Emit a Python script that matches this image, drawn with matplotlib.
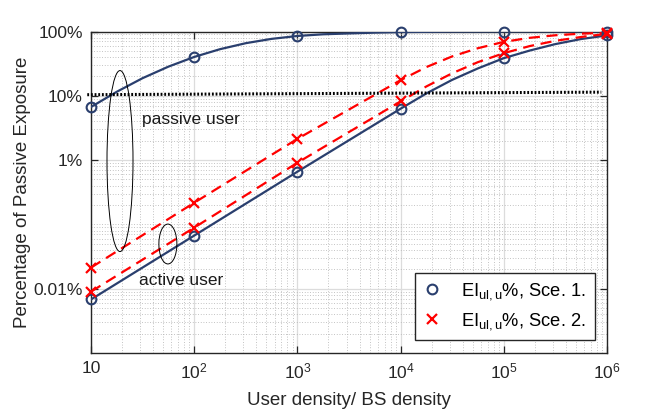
import matplotlib
matplotlib.use("Agg")
import matplotlib.pyplot as plt
from matplotlib.patches import Ellipse
from matplotlib.ticker import LogLocator, NullFormatter

plt.rcParams['font.family'] = ['Liberation Sans', 'DejaVu Sans']
plt.rcParams['mathtext.fontset'] = 'custom'
plt.rcParams['mathtext.rm'] = 'Liberation Sans'
plt.rcParams['mathtext.it'] = 'Liberation Sans:italic'
plt.rcParams['mathtext.default'] = 'regular'

# ---- data (fractions) ----
dec_x = [10, 1e2, 1e3, 1e4, 1e5, 1e6]
passive1_mk = [0.067, 0.402, 0.86, 0.99, 1.0, 1.0]
active1_mk = [6.8e-5, 6.7e-4, 0.0066, 0.063, 0.385, 0.87]
sce2_hi_mk = [2.13e-4, 0.00217, 0.0214, 0.175, 0.69, 0.955]
sce2_lo_mk = [9.0e-5, 8.9e-4, 0.0091, 0.082, 0.46, 0.92]

passive1_x = [10, 17.8, 31.6, 56.2, 100, 178, 316, 562, 1000, 1778, 3162, 5623, 1e4, 3.16e4, 1e5, 1e6]
passive1_y = [0.067, 0.1157, 0.188, 0.284, 0.402, 0.531, 0.658, 0.768, 0.852, 0.905, 0.933, 0.96, 0.98, 0.995, 1.0, 1.0]

active1_x = [10, 100, 1000, 1e4, 1.78e4, 3.16e4, 5.62e4, 1e5, 1.78e5, 3.16e5, 5.62e5, 1e6]
active1_y = [6.8e-5, 6.7e-4, 0.0066, 0.063, 0.109, 0.177, 0.267, 0.385, 0.505, 0.637, 0.764, 0.869]

sce2_hi_x = [10, 100, 1000, 1e4, 1.78e4, 3.16e4, 5.62e4, 1e5, 1.78e5, 3.16e5, 5.62e5, 1e6]
sce2_hi_y = [2.13e-4, 0.00217, 0.0214, 0.175, 0.28, 0.41, 0.55, 0.69, 0.797, 0.874, 0.926, 0.955]

sce2_lo_x = [10, 100, 1000, 1e4, 1.78e4, 3.16e4, 5.62e4, 1e5, 1.78e5, 3.16e5, 5.62e5, 1e6]
sce2_lo_y = [9.0e-5, 8.9e-4, 0.0091, 0.082, 0.140, 0.224, 0.334, 0.46, 0.593, 0.716, 0.822, 0.92]

thresh_x = [9.2, 8.8e5]
thresh_y = [0.104, 0.114]

xticks = [10, 1e2, 1e3, 1e4, 1e5, 1e6]
xticklabels = ['10', '$10^{2}$', '$10^{3}$', '$10^{4}$', '$10^{5}$', '$10^{6}$']
yticks = [1e-4, 1e-2, 1e-1, 1]
yticklabels = ['0.01%', '1%', '10%', '100%']

NAVY = '#2a3f6e'
RED = '#ff0000'
TXT = '#262626'

fig = plt.figure(figsize=(6.64, 4.12), dpi=100)
ax = fig.add_axes([91/664, 59/412, 516/664, 321.5/412])
ax.set_xscale('log')
ax.set_yscale('log')
ax.set_xlim(10, 1e6)
ax.set_ylim(1e-5, 1)

ax.set_xticks(xticks)
ax.set_xticklabels(xticklabels)
ax.set_yticks(yticks)
ax.set_yticklabels(yticklabels)
ax.xaxis.set_minor_locator(LogLocator(base=10, subs=range(1, 10), numticks=50))
ax.yaxis.set_minor_locator(LogLocator(base=10, subs=range(1, 10), numticks=50))
ax.xaxis.set_minor_formatter(NullFormatter())
ax.yaxis.set_minor_formatter(NullFormatter())
ax.grid(True, which='major', color='#dcdcdc', lw=0.9, ls='-')
ax.grid(True, which='minor', color='#b0b0b0', lw=0.6, ls=(0, (1, 2.2)))
ax.set_axisbelow(True)

ax.tick_params(which='major', direction='in', length=5, width=0.9, top=True, right=True,
               labelsize=12.5, colors=TXT, pad=6)
ax.tick_params(which='minor', length=0)
for s in ax.spines.values():
    s.set_color(TXT)
    s.set_linewidth(1.0)

# lines
ax.plot(passive1_x, passive1_y, color=NAVY, lw=1.6, zorder=3)
ax.plot(active1_x, active1_y, color=NAVY, lw=1.6, zorder=3)
ax.plot(sce2_hi_x, sce2_hi_y, color=RED, lw=1.6, ls=(0, (5, 3)), zorder=3)
ax.plot(sce2_lo_x, sce2_lo_y, color=RED, lw=1.6, ls=(0, (5, 3)), zorder=3)

# markers
ax.plot(dec_x, passive1_mk, ls='none', marker='o', ms=7, mfc='none', mec=NAVY, mew=1.5,
        clip_on=False, zorder=4)
ax.plot(dec_x, active1_mk, ls='none', marker='o', ms=7, mfc='none', mec=NAVY, mew=1.5,
        clip_on=False, zorder=4, label=r'EI$_{\mathrm{ul,u}}$%, Sce. 1.')
ax.plot(dec_x, sce2_hi_mk, ls='none', marker='x', ms=7, mec=RED, mew=1.6,
        clip_on=False, zorder=4)
ax.plot(dec_x, sce2_lo_mk, ls='none', marker='x', ms=7, mec=RED, mew=1.6,
        clip_on=False, zorder=4, label=r'EI$_{\mathrm{ul,u}}$%, Sce. 2.')

# threshold dotted line
ax.plot(thresh_x, thresh_y, color='black', lw=2.2, ls=(0, (0.6, 0.6)), clip_on=False, zorder=3)

# ellipses and annotations
ax.add_patch(Ellipse((0.0562, 0.597), 0.0504, 0.563, transform=ax.transAxes,
                     fill=False, ec='black', lw=0.7, zorder=5))
ax.add_patch(Ellipse((0.149, 0.339), 0.0349, 0.124, transform=ax.transAxes,
                     fill=False, ec='black', lw=0.7, zorder=5))
ax.text(0.0988, 0.725, 'passive user', transform=ax.transAxes, fontsize=12.5,
        va='center', ha='left', color='#1a1a1a')
ax.text(0.093, 0.227, 'active user', transform=ax.transAxes, fontsize=12.5,
        va='center', ha='left', color='#1a1a1a')

leg = ax.legend(loc='lower right', bbox_to_anchor=(0.976, 0.040), fontsize=13.2,
                frameon=True, fancybox=False, edgecolor=TXT, framealpha=1,
                handlelength=1.0, handletextpad=1.1, borderpad=0.45, labelspacing=0.5,
                borderaxespad=0)
leg.get_frame().set_linewidth(1.0)

ax.set_xlabel('User density/ BS density', fontsize=13.5, color=TXT, labelpad=8)
ax.set_ylabel('Percentage of Passive Exposure', fontsize=13.5, color=TXT, labelpad=2)

fig.savefig('out.png', dpi=100)
